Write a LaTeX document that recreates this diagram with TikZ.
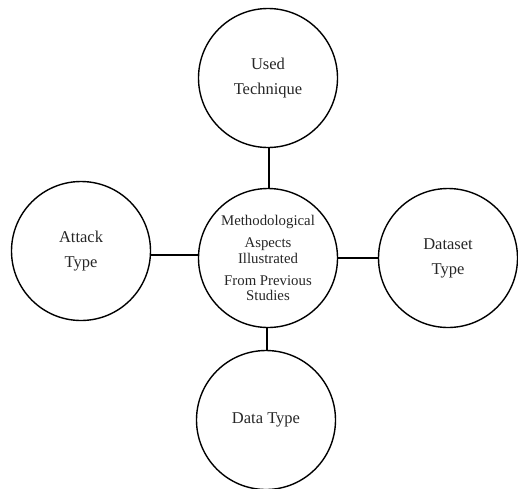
\documentclass[tikz,border=0pt]{standalone}
\usepackage{fontspec}
\setmainfont{Liberation Serif}
\begin{document}
\begin{tikzpicture}[x=1pt,y=-1pt,
  bubble/.style={circle, draw=black, line width=1.4pt, minimum size=139pt,
    inner sep=0pt, align=center, text=black!85},
  outer/.style={bubble, font=\fontsize{16.5}{25}\selectfont},
  hub/.style={bubble, font=\fontsize{14.8}{15.5}\selectfont},
  link/.style={draw=black, line width=1.8pt}]
\useasboundingbox (0,0) rectangle (518,488);
\node[hub]   (hub)  at (268,258) {Methodological\\[6.5pt]Aspects\\Illustrated\\[6.5pt]From Previous\\Studies};
\node[outer] (tech) at (268,78)  {Used\\Technique};
\node[outer] (atk)  at (81,251)  {Attack\\Type};
\node[outer] (dset) at (448,258) {Dataset\\Type};
\node[outer] (dtyp) at (266,420) {Data Type};
\draw[link] (tech.south -| 269,0) -- (hub.north -| 269,0);
\draw[link] (hub.south -| 267,0) -- (dtyp.north -| 267,0);
\draw[link] (atk.east |- 0,255) -- (hub.west |- 0,255);
\draw[link] (hub.east |- 0,258) -- (dset.west |- 0,258);
\end{tikzpicture}
\end{document}
